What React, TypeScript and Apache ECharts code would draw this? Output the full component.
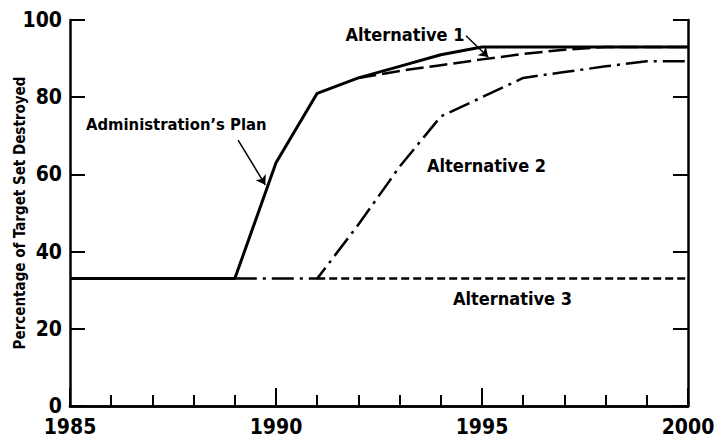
import React, { useEffect, useRef } from "react";
import * as echarts from "echarts";

const years = [1985, 1986, 1987, 1988, 1989, 1990, 1991, 1992, 1993, 1994, 1995, 1996, 1997, 1998, 1999, 2000];
const adminPlan = [33, 33, 33, 33, 33, 63, 81, 85, 88, 91, 93, 93, 93, 93, 93, 93];
const alt1Years = [1992, 1993, 1994, 1995, 1996, 1997, 1998, 1999, 2000];
const alt1 = [85, 86.8, 88.3, 89.8, 91.2, 92.3, 93, 93, 93];
const alt2Years = [1989, 1990, 1991, 1992, 1993, 1994, 1995, 1996, 1997, 1998, 1999, 2000];
const alt2 = [33, 33, 33, 47, 62, 75, 80, 85, 86.5, 88, 89.3, 89.3];
const alt3Years = [1991, 1992, 1993, 1994, 1995, 1996, 1997, 1998, 1999, 2000];
const alt3 = [33, 33, 33, 33, 33, 33, 33, 33, 33, 33];
const yTicks = [0, 20, 40, 60, 80, 100];
const xLabels = [1985, 1990, 1995, 2000];

const FONT = '"DejaVu Sans Condensed", "Liberation Sans Narrow", "DejaVu Sans", sans-serif';

const pairs = (xs: number[], ys: number[]) => xs.map((x, i) => [x, ys[i]]);

const labelPoint = (name: string, x: number, y: number, size: number) => ({
  symbol: "circle",
  symbolSize: 1,
  itemStyle: { color: "rgba(0,0,0,0)" },
  silent: true,
  label: {
    show: true,
    position: "inside",
    formatter: "{b}",
    color: "#000",
    fontFamily: FONT,
    fontWeight: "bold",
    fontSize: size,
  },
  data: [{ name, coord: [x, y] }],
});

const arrow = (x1: number, y1: number, x2: number, y2: number) => ({
  silent: true,
  symbol: ["none", "arrow"],
  symbolSize: 9,
  lineStyle: { color: "#000", type: "solid", width: 1.5 },
  label: { show: false },
  data: [[{ coord: [x1, y1] }, { coord: [x2, y2] }]],
});

export default function App() {
  const ref = useRef<HTMLDivElement>(null);
  useEffect(() => {
    if (!ref.current) return;
    const chart = echarts.init(ref.current, undefined, { renderer: "svg" });
    const axisLine = { show: true, lineStyle: { color: "#000", width: 2.5 } };
    chart.setOption({
      animation: false,
      backgroundColor: "#fff",
      grid: { left: 70, right: 26, top: 20, bottom: 32, show: false, containLabel: false, outerBoundsMode: "none" },
      xAxis: [
        {
          type: "value",
          min: 1985,
          max: 2000,
          interval: 5,
          position: "bottom",
          axisLine,
          axisTick: { show: true, inside: true, length: 18, lineStyle: { color: "#000", width: 2 } },
          minorTick: { show: true, splitNumber: 5, length: 11, lineStyle: { color: "#000", width: 2 } },
          splitLine: { show: false },
          axisLabel: {
            color: "#000",
            fontFamily: FONT,
            fontWeight: "bold",
            fontSize: 21,
            lineHeight: 18,
            margin: 12,
            formatter: (v: number) => (xLabels.includes(v) ? String(v) : ""),
          },
        },
        {
          type: "value",
          min: 1985,
          max: 2000,
          position: "top",
          axisLine,
          axisTick: { show: false },
          axisLabel: { show: false },
          splitLine: { show: false },
        },
      ],
      yAxis: [
        {
          type: "value",
          min: 0,
          max: 100,
          interval: 20,
          position: "left",
          axisLine,
          axisTick: { show: true, inside: true, length: 15, lineStyle: { color: "#000", width: 2 } },
          splitLine: { show: false },
          axisLabel: {
            color: "#000",
            fontFamily: FONT,
            fontWeight: "bold",
            fontSize: 21,
            lineHeight: 16,
            margin: 8,
            formatter: (v: number) => (yTicks.includes(v) ? String(v) : ""),
          },
          name: "Percentage of Target Set Destroyed",
          nameLocation: "middle",
          nameGap: 43,
          nameMoveOverlap: false,
          nameTextStyle: { color: "#000", fontFamily: FONT, fontWeight: "bold", fontSize: 15 },
        },
        {
          type: "value",
          min: 0,
          max: 100,
          interval: 20,
          position: "right",
          axisLine,
          axisTick: { show: true, inside: true, length: 15, lineStyle: { color: "#000", width: 2 } },
          axisLabel: { show: false },
          splitLine: { show: false },
        },
      ],
      series: [
        {
          name: "Alternative 3",
          type: "line",
          data: pairs(alt3Years, alt3),
          showSymbol: false,
          lineStyle: { color: "#000", width: 2.5, type: [8, 4] },
          markPoint: labelPoint("Alternative 3", 1995.74, 27.85, 18),
        },
        {
          name: "Alternative 2",
          type: "line",
          data: pairs(alt2Years, alt2),
          showSymbol: false,
          lineStyle: { color: "#000", width: 2.5, type: [22, 6, 3, 6] },
          markPoint: labelPoint("Alternative 2", 1995.11, 62.2, 18),
        },
        {
          name: "Alternative 1",
          type: "line",
          data: pairs(alt1Years, alt1),
          showSymbol: false,
          lineStyle: { color: "#000", width: 2.5, type: [18, 6] },
          markPoint: labelPoint("Alternative 1", 1993.13, 96.2, 18),
          markLine: arrow(1994.61, 95.9, 1995.15, 90.4),
        },
        {
          name: "Administration's Plan",
          type: "line",
          data: pairs(years, adminPlan),
          showSymbol: false,
          lineStyle: { color: "#000", width: 3, type: "solid" },
          markPoint: labelPoint("Administration\u2019s Plan", 1987.58, 72.8, 16.5),
          markLine: arrow(1989.08, 68.9, 1989.74, 57.3),
        },
      ],
    });
    return () => chart.dispose();
  }, []);
  return (
    <>
      <style>{"svg text { font-stretch: condensed; }"}</style>
      <div ref={ref} style={{ position: "fixed", left: 0, top: 0, width: 714, height: 438 }} />
    </>
  );
}
